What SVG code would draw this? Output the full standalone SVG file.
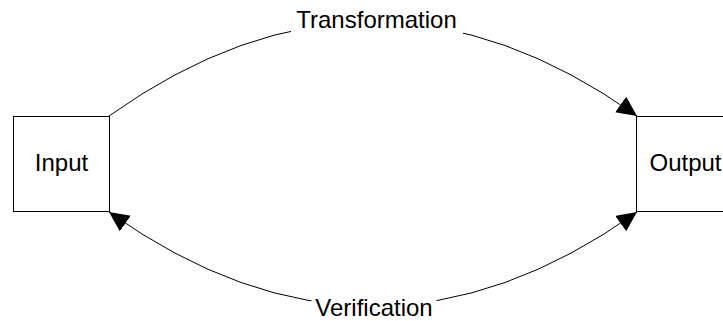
<svg xmlns="http://www.w3.org/2000/svg" width="723" height="321" viewBox="0 0 723 321">
<style>
.box{fill:#fff;stroke:#000;stroke-width:1}
.lbl{font-family:"Liberation Sans",Arial,sans-serif;font-size:24px;fill:#000;text-anchor:middle}
.edge{fill:none;stroke:#000;stroke-width:1}
.bg{fill:#fff;stroke:none}
</style>
<defs>
<marker id="arr" markerUnits="userSpaceOnUse" markerWidth="22" markerHeight="20" refX="20" refY="9.5" orient="auto-start-reverse" viewBox="0 0 22 20">
<path d="M0,0 L20,9.5 L0,19 Z" fill="#000"/>
</marker>
</defs>
<rect width="723" height="321" fill="#fff"/>
<g id="connectors">
<path class="edge" d="M109,116 Q373,-72 637,116" marker-end="url(#arr)"/>
<rect class="bg" x="291" y="7" width="172" height="28"/>
<text class="lbl" x="376.5" y="28">Transformation</text>
<path class="edge" d="M637,212 Q373,400 109,212" marker-start="url(#arr)" marker-end="url(#arr)"/>
<rect class="bg" x="311.5" y="294" width="125" height="27"/>
<text class="lbl" x="374" y="316">Verification</text>
</g>
<g id="input">
<rect class="box" x="13.5" y="116.5" width="96" height="95"/>
<text class="lbl" x="61.5" y="171">Input</text>
</g>
<g id="output">
<rect class="box" x="636.5" y="116.5" width="96" height="95"/>
<text class="lbl" x="685.5" y="171">Output</text>
</g>
</svg>
